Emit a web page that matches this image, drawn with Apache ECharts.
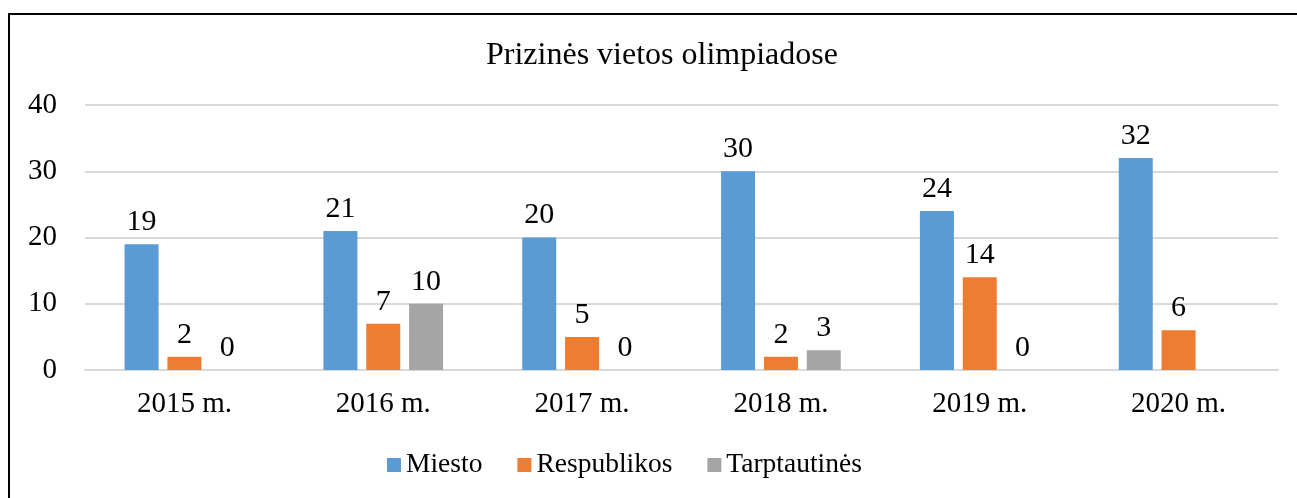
<!DOCTYPE html>
<html>
<head>
<meta charset="utf-8">
<script src="https://cdn.jsdelivr.net/npm/echarts@6/dist/echarts.min.js"></script>
<style>
  html, body { margin: 0; padding: 0; background: #fff; overflow: hidden; }
  .frame {
    position: absolute; left: 8px; top: 13px; width: 1400px; height: 600px;
    border-top: 2px solid #000; border-left: 2px solid #000;
  }
  #mychart { position: absolute; left: 0; top: 0; width: 1297px; height: 498px; }
</style>
</head>
<body>
<div class="frame"></div>
<div id="mychart"></div>
<script>
var categories = ['2015 m.', '2016 m.', '2017 m.', '2018 m.', '2019 m.', '2020 m.'];
var miesto = [19, 21, 20, 30, 24, 32];
var respublikos = [2, 7, 5, 2, 14, 6];
var tarptautines = [0, 10, 0, 3, 0, null];
var seriesNames = ['Miesto', 'Respublikos', 'Tarptautinės'];
var colors = ['#5B9BD5', '#ED7D31', '#A5A5A5'];

var font = '"Liberation Serif", "Times New Roman", serif';

function barSeries(name, data, color) {
  return {
    name: name,
    type: 'bar',
    data: data,
    barWidth: 34,
    barGap: '26%',
    itemStyle: { color: color },
    label: {
      show: true,
      position: 'top',
      distance: 7,
      color: '#000',
      fontFamily: font,
      fontSize: 30
    }
  };
}

var myChart = echarts.init(document.getElementById('mychart'));
var option = {
  animation: false,
  color: colors,
  title: {
    text: 'Prizinės vietos olimpiadose',
    left: 481,
    top: 35,
    textStyle: { fontFamily: font, fontSize: 32, fontWeight: 'normal', color: '#000' }
  },
  legend: {
    data: seriesNames,
    left: 382,
    top: 446,
    itemWidth: 14,
    itemHeight: 14,
    itemGap: 35,
    icon: 'rect',
    textStyle: { fontFamily: font, fontSize: 27.5, color: '#000' }
  },
  grid: { left: 85, right: 19, top: 105, bottom: 128 },
  xAxis: {
    type: 'category',
    data: categories,
    axisLine: { lineStyle: { color: '#D9D9D9', width: 2 } },
    axisTick: { show: false },
    axisLabel: { fontFamily: font, fontSize: 29, color: '#000', margin: 20 }
  },
  yAxis: {
    type: 'value',
    min: 0,
    max: 40,
    interval: 10,
    axisLine: { show: false },
    axisTick: { show: false },
    splitLine: { lineStyle: { color: '#D9D9D9', width: 2 } },
    axisLabel: { fontFamily: font, fontSize: 29, color: '#000', margin: 28 }
  },
  series: [
    barSeries(seriesNames[0], miesto, colors[0]),
    barSeries(seriesNames[1], respublikos, colors[1]),
    barSeries(seriesNames[2], tarptautines, colors[2])
  ]
};
myChart.setOption(option);
</script>
</body>
</html>
